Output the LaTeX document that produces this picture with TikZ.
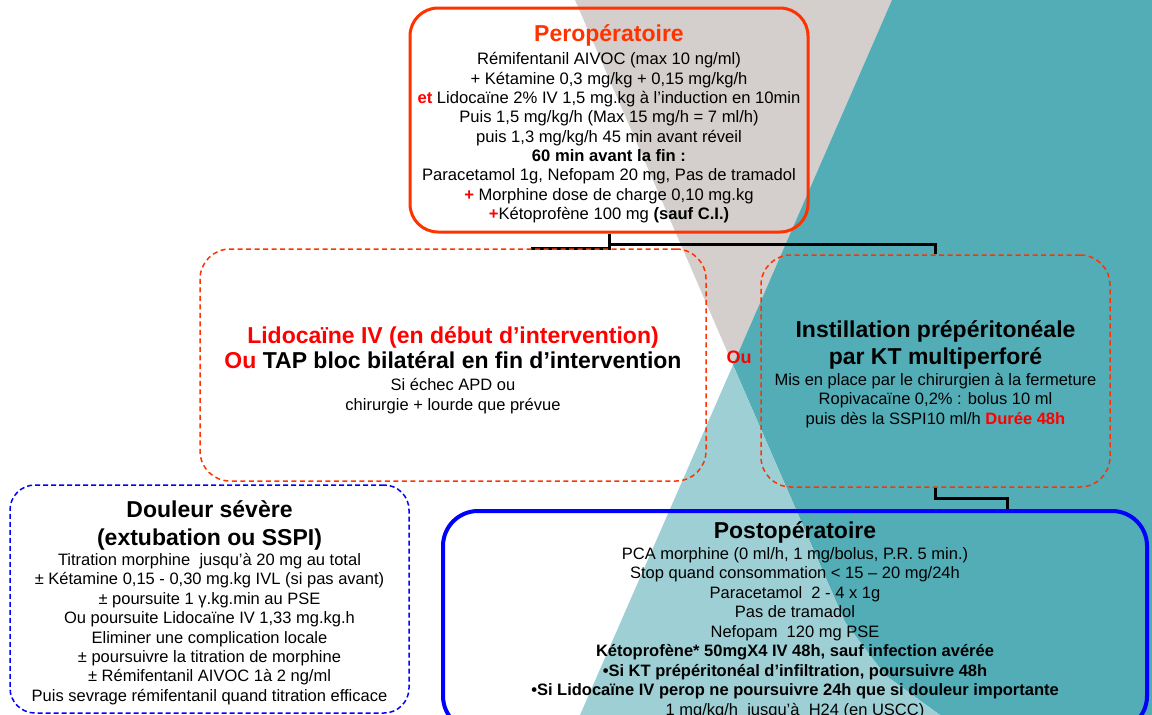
\documentclass[tikz,border=0pt]{standalone}
\usepackage{fontspec}
\setmainfont{Liberation Sans}
\usetikzlibrary{calc}
\definecolor{greyT}{HTML}{D4CFCC}
\definecolor{tealD}{HTML}{52ADB6}
\definecolor{tealL}{HTML}{9ECFD4}
\definecolor{orangeR}{HTML}{FF3300}
\definecolor{redT}{HTML}{FF0000}
\definecolor{blueB}{HTML}{0000FF}
\pgfdeclarelayer{backdrop}
\pgfdeclarelayer{links}
\pgfsetlayers{backdrop,links,main}
\newcommand\bodyf{\fontsize{16.5}{19.5}\selectfont}
\newcommand\perf{\fontsize{16.6}{19.3}\selectfont}
\newcommand\titf{\fontsize{23}{26}\selectfont\bfseries}
\newcommand\rd[1]{\textcolor{redT}{\bfseries #1}}
\tikzset{
  conn/.style={draw=black, line width=3pt},
  txt/.style={align=center, inner sep=0pt},
  perbox/.style={draw=orangeR, line width=3pt, rounded corners=28pt, inner sep=0pt},
  dashbox/.style={draw=orangeR, line width=1.5pt, dash pattern=on 5pt off 3.5pt, rounded corners=30pt, inner sep=0pt},
  bluedash/.style={draw=blueB, line width=1.5pt, dash pattern=on 5pt off 3pt, rounded corners=25pt, inner sep=0pt},
  postbox/.style={draw=blueB, line width=4pt, rounded corners=35pt, inner sep=0pt},
}
\begin{document}
\begin{tikzpicture}[x=1pt,y=-1pt]
\useasboundingbox (0,0) rectangle (1152,715);
\clip (0,0) rectangle (1152,715);
\begin{pgfonlayer}{backdrop}
\fill[white] (0,0) rectangle (1152,715);
\fill[greyT] (575,0) -- (892,0) -- (733,365) -- cycle;
\fill[tealD] (892,0) -- (1152,0) -- (1152,715) -- (940,715) -- (885,675) -- (845,622) -- (733,365) -- cycle;
\fill[tealL] (733,365) -- (845,622) -- (885,675) -- (940,715) -- (580,715) -- cycle;
\end{pgfonlayer}

% boxes
\node[perbox, minimum width=398pt, minimum height=224pt] (perop) at (609,120) {};
\node[txt, font=\perf] (pertext) at (609,123.5)
 {{\titf\color{orangeR}Peropératoire}\\[4.5pt]
  Rémifentanil AIVOC (max 10 ng/ml)\\
  + Kétamine 0,3 mg/kg + 0,15 mg/kg/h\\
  \rd{et} Lidocaïne 2\% IV 1,5 mg.kg à l’induction en 10min\\
  Puis 1,5 mg/kg/h (Max 15 mg/h = 7 ml/h)\\
  puis 1,3 mg/kg/h 45 min avant réveil\\
  \textbf{60 min avant la fin :}\\
  Paracetamol 1g, Nefopam 20 mg, Pas de tramadol\\
  \rd{+} Morphine dose de charge 0,10 mg.kg\\
  \rd{+}Kétoprofène 100 mg \textbf{(sauf C.I.)}};

\node[dashbox, minimum width=506pt, minimum height=232pt] (lbox) at (453,365) {};
\node[txt, font=\bodyf] (ltext) at (453,370)
 {{\titf\color{redT}Lidocaïne IV (en début d’intervention)}\\[2.5pt]
  {\titf\color{redT}Ou \color{black}TAP bloc bilatéral en fin d’intervention}\\[3pt]
  Si échec APD ou\\
  chirurgie + lourde que prévue};

\node[dashbox, minimum width=349pt, minimum height=232pt] (rbox) at (935.5,371) {};
\node[txt, font=\bodyf] (rtext) at (935.5,374)
 {{\titf Instillation prépéritonéale}\\[4.5pt]
  {\titf par KT multiperforé}\\[1.5pt]
  Mis en place par le chirurgien à la fermeture\\
  Ropivacaïne 0,2\% : bolus 10 ml\\
  puis dès la SSPI10 ml/h \rd{Durée 48h}};

\node[font=\fontsize{18}{20}\selectfont\bfseries, text=redT, inner sep=0pt] (ou) at (739,357) {Ou};

\node[bluedash, minimum width=399pt, minimum height=228pt] (sev) at (209.5,599) {};
\node[txt, font=\fontsize{16.5}{19.4}\selectfont] (sevtext) at (209.5,602.5)
 {{\titf Douleur sévère}\\[9pt]
  {\titf (extubation ou SSPI)}\\[0.5pt]
  Titration morphine\ \ jusqu’à 20 mg au total\\
  ± Kétamine 0,15 - 0,30 mg.kg IVL (si pas avant)\\
  ± poursuite 1 γ.kg.min au PSE\\
  Ou poursuite Lidocaïne IV 1,33 mg.kg.h\\
  Eliminer une complication locale\\
  ± poursuivre la titration de morphine\\
  ± Rémifentanil AIVOC 1à 2 ng/ml\\
  Puis sevrage rémifentanil quand titration efficace};

\node[postbox, minimum width=704pt, minimum height=220pt] (postop) at (795,621) {};
\node[txt, font=\bodyf] (posttext) at (795,620.5)
 {{\titf Postopératoire}\\[1pt]
  PCA morphine (0 ml/h, 1 mg/bolus, P.R. 5 min.)\\
  Stop quand consommation < 15 – 20 mg/24h\\
  Paracetamol\ \ 2 - 4 x 1g\\
  Pas de tramadol\\
  Nefopam\ \ 120 mg PSE\\
  \textbf{Kétoprofène* 50mgX4 IV 48h, sauf infection avérée}\\
  \textbf{•Si KT prépéritonéal d’infiltration, poursuivre 48h}\\
  \textbf{•Si Lidocaïne IV perop ne poursuivre 24h que si douleur importante}\\
  1 mg/kg/h\ \ jusqu'à\ \ H24 (en USCC)};

% connectors (on a layer beneath the boxes)
\coordinate (lend) at ($(lbox.north)+(78,0)$);
\coordinate (pend) at ($(postop.north)+(212,0)$);
\begin{pgfonlayer}{links}
\draw[conn] (perop.south) -- ++(0,11) -| (rbox.north);
\draw[conn] (perop.south) |- (lend);
\draw[conn] (rbox.south) -- ++(0,11) -| (pend);
\end{pgfonlayer}
\end{tikzpicture}
\end{document}
